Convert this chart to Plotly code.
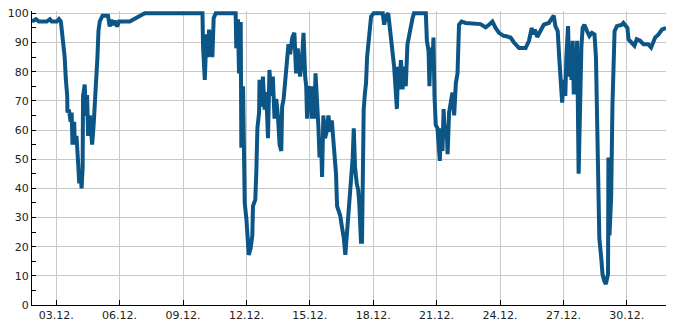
import pandas as pd
import plotly.graph_objects as go

# Day of December (fractional) and values
day = [
    1.85, 2.04, 2.18, 2.55, 2.70, 2.79, 3.03, 3.13, 3.22, 3.32, 3.40, 3.45, 3.52, 3.53,
    3.60, 3.68, 3.73, 3.77, 3.85, 3.88, 3.96, 4.04, 4.09, 4.15, 4.20, 4.25, 4.27, 4.35,
    4.40, 4.46, 4.51, 4.59, 4.70, 4.78, 4.84, 4.91, 4.95, 5.00, 5.06, 5.19, 5.45, 5.53,
    5.61, 5.69, 5.77, 5.88, 5.97, 6.48, 6.71, 6.95, 7.19, 9.92, 9.95, 10.03, 10.11, 10.19,
    10.23, 10.34, 10.39, 10.45, 10.55, 11.49, 11.52, 11.60, 11.65, 11.73, 11.76, 11.84,
    11.87, 11.92, 12.00, 12.04, 12.11, 12.20, 12.28, 12.31, 12.42, 12.47, 12.52, 12.60,
    12.62, 12.70, 12.78, 12.86, 12.94, 13.02, 13.09, 13.17, 13.25, 13.33, 13.41, 13.49,
    13.57, 13.65, 13.69, 13.76, 13.84, 13.92, 13.99, 14.07, 14.17, 14.27, 14.35, 14.43,
    14.54, 14.64, 14.70, 14.78, 14.83, 14.87, 14.94, 15.02, 15.10, 15.14, 15.22, 15.27,
    15.35, 15.41, 15.46, 15.53, 15.58, 15.64, 15.72, 15.80, 15.88, 15.96, 16.04, 16.11,
    16.16, 16.24, 16.29, 16.37, 16.44, 16.51, 16.61, 16.68, 16.75, 16.82, 16.90, 16.95,
    17.03, 17.08, 17.14, 17.22, 17.29, 17.34, 17.42, 17.47, 17.50, 17.55, 17.61, 17.66,
    17.71, 17.79, 17.85, 17.90, 18.02, 18.45, 18.52, 18.60, 18.71, 18.83, 18.91, 18.99,
    19.07, 19.12, 19.18, 19.23, 19.31, 19.39, 19.46, 19.54, 19.62, 19.70, 19.78, 19.86,
    19.93, 20.49, 20.54, 20.62, 20.66, 20.72, 20.80, 20.85, 20.90, 20.96, 21.04, 21.09,
    21.15, 21.20, 21.28, 21.33, 21.40, 21.47, 21.52, 21.59, 21.67, 21.75, 21.83, 21.91,
    21.99, 22.02, 22.06, 22.18, 22.38, 23.08, 23.32, 23.48, 23.64, 23.79, 23.95, 24.19,
    24.27, 24.50, 24.66, 24.90, 25.21, 25.37, 25.50, 25.58, 25.65, 25.76, 25.92, 26.07,
    26.31, 26.47, 26.54, 26.62, 26.73, 26.81, 26.86, 26.94, 27.01, 27.09, 27.14, 27.22,
    27.28, 27.33, 27.38, 27.44, 27.49, 27.53, 27.60, 27.65, 27.72, 27.77, 27.85, 27.91,
    27.99, 28.12, 28.23, 28.35, 28.47, 28.54, 28.59, 28.63, 28.70, 28.79, 28.85, 28.93,
    29.01, 29.11, 29.13, 29.18, 29.26, 29.32, 29.37, 29.42, 29.53, 29.77, 29.84, 30.03,
    30.08, 30.24, 30.36, 30.47, 30.63, 30.79, 31.01, 31.15, 31.25, 31.34, 31.50, 31.66,
    31.85,
]
value = [
    97.2, 98.0, 97.2, 97.2, 98.0, 97.2, 97.2, 98.0, 97.2, 90.5, 85.0, 78.0, 71.7, 66.0,
    67.0, 62.8, 66.0, 55.0, 62.8, 55.0, 58.0, 48.3, 41.7, 46.0, 40.0, 47.0, 71.7, 75.6,
    64.8, 72.0, 58.0, 65.0, 55.0, 62.8, 70.6, 76.0, 85.0, 94.0, 97.2, 99.2, 99.2, 95.5,
    97.8, 96.0, 97.5, 95.5, 97.2, 97.2, 98.0, 98.9, 100.0, 100.0, 88.3, 77.2, 92.8, 85.0,
    94.4, 88.0, 85.0, 98.3, 100.0, 100.0, 88.0, 98.0, 79.4, 97.0, 53.9, 75.0,
    41.7, 35.0, 29.4, 21.7, 17.2, 19.4, 23.9, 33.9, 36.1, 46.0, 60.6, 66.0,
    77.2, 68.0, 78.3, 67.0, 73.0, 57.2, 80.6, 71.7, 78.3, 63.9, 70.6, 65.0,
    55.0, 52.8, 68.0, 70.6, 77.2, 81.7, 89.4, 86.0, 91.7, 93.3, 79.4, 88.0,
    78.3, 85.0, 93.3, 78.3, 75.0, 63.9, 75.0, 73.0, 63.9, 75.0, 63.9, 79.4,
    70.6, 60.6, 50.6, 57.2, 43.9, 65.0, 57.2, 59.4, 65.0, 59.4, 63.3, 57.2,
    53.9, 45.0, 33.9, 31.7, 30.6, 27.2, 22.8, 17.2, 23.9, 30.6, 41.7, 47.2,
    50.6, 60.6, 47.2, 41.7, 39.4, 35.0, 21.7, 21.7, 46.0, 67.2, 72.8, 76.1,
    85.0, 90.6, 95.0, 98.9, 100.0, 100.0, 96.1, 99.0, 100.0, 91.7, 85.0, 81.7,
    72.8, 67.2, 81.7, 73.9, 84.0, 73.9, 81.7, 75.0, 89.4, 92.8, 95.0, 98.3,
    100.0, 100.0, 90.6, 87.0, 75.0, 88.3, 81.7, 91.7, 71.7, 61.7, 60.6, 55.0,
    49.4, 60.6, 52.8, 67.2, 57.2, 61.7, 51.7, 66.0, 70.6, 72.8, 65.0, 76.1,
    79.4, 91.7, 96.1, 97.2, 96.7, 96.3, 95.2, 96.1, 97.2, 95.0, 93.3, 92.2,
    92.2, 91.7, 90.0, 88.1, 88.1, 90.6, 95.0, 92.8, 94.4, 91.9, 93.9, 96.1,
    96.7, 98.3, 99.2, 95.6, 93.9, 83.9, 76.1, 69.4, 77.2, 71.7, 85.0, 95.6,
    78.3, 89.4, 77.2, 90.6, 72.2, 88.3, 79.4, 90.6, 45.0, 67.8, 88.3, 95.0,
    96.1, 93.9, 92.2, 93.3, 92.8, 85.0, 63.9, 41.7, 22.8, 16.1, 10.6, 8.3,
    7.2, 10.6, 50.6, 23.9, 37.2, 68.3, 90.6, 93.9, 95.6, 96.1, 96.7, 95.0,
    91.1, 90.0, 88.9, 91.1, 90.6, 89.4, 89.4, 88.3, 90.0, 91.7, 92.8, 94.4,
    95.0,
]

x_start = "2023-12-01 20:30"
x_end = "2023-12-31 20:30"
tick_start = "2023-12-03"

times = pd.Timestamp("2023-12-01") + pd.to_timedelta([d - 1 for d in day], unit="D")

fig = go.Figure()
fig.add_trace(go.Scatter(
    x=times, y=value, mode="lines",
    line=dict(color="#0c5687", width=4),
    hoverinfo="skip", showlegend=False,
))

font = dict(family="DejaVu Sans", size=11, color="#222222")
fig.update_layout(
    width=685, height=330,
    margin=dict(l=30, r=19, t=7.6, b=20),
    paper_bgcolor="white", plot_bgcolor="white",
    font=font,
    xaxis=dict(
        type="date", range=[x_start, x_end],
        tick0=tick_start, dtick=3 * 86400000, tickformat="%d.%m.",
        showgrid=True, gridcolor="#c8c8c8", gridwidth=1,
        showline=True, linecolor="black", linewidth=1,
        ticks="inside", ticklen=5, tickcolor="black",
        zeroline=False, tickfont=font,
    ),
    yaxis=dict(
        range=[0, 100.8], tick0=0, dtick=10,
        showgrid=True, gridcolor="#c8c8c8", gridwidth=1,
        showline=True, linecolor="black", linewidth=1,
        ticks="inside", ticklen=4, tickcolor="black",
        minor=dict(dtick=5, ticks="inside", ticklen=4, tickcolor="black", showgrid=False),
        zeroline=False, tickfont=font,
    ),
)

fig.write_html("out.html")
